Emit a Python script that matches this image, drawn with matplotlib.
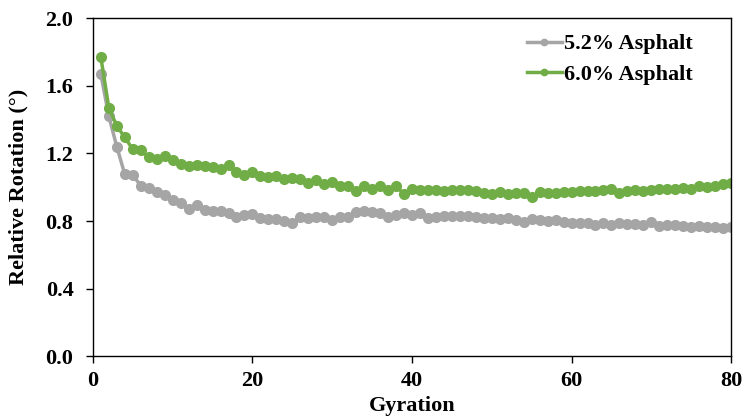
import numpy as np
import matplotlib
matplotlib.use("Agg")
from matplotlib import pyplot as plt

plt.rcParams['font.family'] = ['Liberation Serif', 'DejaVu Serif']
plt.rcParams['font.weight'] = 'bold'

gyration = np.arange(1, 81)

# relative rotation per gyration, 5.2% asphalt content
rot_52 = [1.67, 1.42, 1.24, 1.076, 1.072, 1.009, 0.993, 0.973, 0.954, 0.924,
          0.904, 0.869, 0.892, 0.868, 0.862, 0.859, 0.847, 0.823, 0.837, 0.843,
          0.815, 0.814, 0.81, 0.801, 0.788, 0.825, 0.816, 0.822, 0.826, 0.806,
          0.823, 0.822, 0.852, 0.86, 0.852, 0.845, 0.823, 0.838, 0.845, 0.835,
          0.845, 0.818, 0.822, 0.828, 0.832, 0.827, 0.832, 0.823, 0.818, 0.816,
          0.81, 0.815, 0.806, 0.796, 0.81, 0.808, 0.8, 0.806, 0.796, 0.79,
          0.786, 0.786, 0.776, 0.786, 0.776, 0.786, 0.782, 0.782, 0.776, 0.792,
          0.77, 0.776, 0.776, 0.77, 0.762, 0.77, 0.766, 0.766, 0.756, 0.762]

# relative rotation per gyration, 6.0% asphalt content
rot_60 = [1.77, 1.47, 1.363, 1.295, 1.225, 1.22, 1.18, 1.166, 1.186, 1.16,
          1.136, 1.127, 1.134, 1.123, 1.117, 1.11, 1.133, 1.092, 1.072, 1.089,
          1.066, 1.061, 1.069, 1.047, 1.052, 1.048, 1.024, 1.04, 1.022, 1.033,
          1.005, 1.01, 0.98, 1.01, 0.988, 1.008, 0.982, 1.008, 0.958, 0.992,
          0.983, 0.983, 0.985, 0.98, 0.984, 0.981, 0.983, 0.975, 0.968, 0.962,
          0.974, 0.962, 0.965, 0.966, 0.944, 0.97, 0.965, 0.968, 0.97, 0.974,
          0.977, 0.977, 0.977, 0.983, 0.987, 0.968, 0.979, 0.983, 0.979, 0.983,
          0.987, 0.991, 0.987, 0.997, 0.991, 1.007, 1.003, 1.009, 1.017, 1.025]

series_labels = ['5.2% Asphalt', '6.0% Asphalt']
colors = ['#A5A5A5', '#70AD47']

fig = plt.figure(figsize=(7.43, 4.17), dpi=100)
ax = fig.add_axes([0.125, 0.146, 0.859, 0.81])

for vals, lab, c in zip([rot_52, rot_60], series_labels, colors):
    ax.plot(gyration, vals, color=c, lw=2.5, marker='o', markersize=7,
            markeredgecolor=c, markerfacecolor=c, label=lab)

ax.set_xlim(0, 80)
ax.set_ylim(0, 2.0)
ax.set_xticks([0, 20, 40, 60, 80])
ax.set_yticks(np.arange(0, 2.01, 0.4))
ax.yaxis.set_major_formatter(matplotlib.ticker.FormatStrFormatter('%.1f'))
ax.tick_params(direction='out', length=5, width=1, labelsize=16)
ax.tick_params(axis='y', pad=9)
ax.tick_params(axis='x', pad=6)
for lbl in ax.get_xticklabels() + ax.get_yticklabels():
    lbl.set_fontweight('bold')
for sp in ax.spines.values():
    sp.set_linewidth(1)
    sp.set_color('black')

ax.set_xlabel('Gyration', fontsize=16, fontweight='bold', labelpad=3)
ax.set_ylabel('Relative Rotation (°)', fontsize=16, fontweight='bold', labelpad=12)

leg = ax.legend(loc='upper right', frameon=False, fontsize=16, handlelength=1.6,
                handletextpad=0.1, labelspacing=0.45, markerscale=0.65,
                borderaxespad=0.3, bbox_to_anchor=(0.965, 1.0))

fig.savefig('out.png', dpi=100)
